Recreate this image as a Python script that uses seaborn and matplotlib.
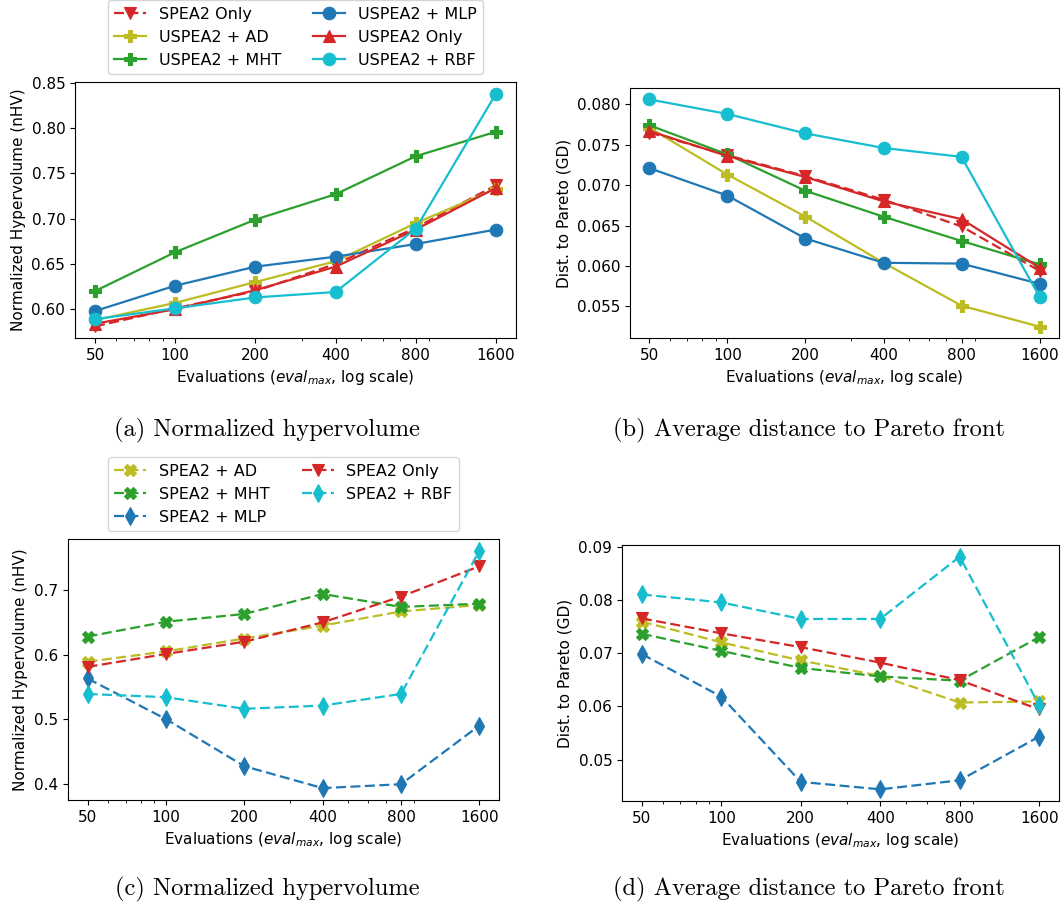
import matplotlib
matplotlib.use("Agg")
import matplotlib.pyplot as plt
import pandas as pd
import seaborn as sns

plt.rcParams["font.size"] = 11

evals = [50, 100, 200, 400, 800, 1600]

# (a) normalized hypervolume, USPEA2 variants
nhv_spea2_only = [0.581, 0.601, 0.620, 0.650, 0.690, 0.737]
nhv_uspea2_ad = [0.588, 0.607, 0.630, 0.653, 0.695, 0.733]
nhv_uspea2_mht = [0.620, 0.663, 0.699, 0.727, 0.769, 0.796]
nhv_uspea2_mlp = [0.598, 0.626, 0.647, 0.658, 0.672, 0.688]
nhv_uspea2_only = [0.584, 0.600, 0.621, 0.647, 0.688, 0.734]
nhv_uspea2_rbf = [0.589, 0.601, 0.613, 0.619, 0.689, 0.838]

# (b) generational distance, USPEA2 variants
gd_spea2_only = [0.0765, 0.0737, 0.0711, 0.0682, 0.0649, 0.0594]
gd_uspea2_ad = [0.0771, 0.0713, 0.0661, 0.0604, 0.0551, 0.0525]
gd_uspea2_mht = [0.0774, 0.0738, 0.0693, 0.0661, 0.0631, 0.0602]
gd_uspea2_mlp = [0.0721, 0.0687, 0.0634, 0.0604, 0.0603, 0.0578]
gd_uspea2_only = [0.0767, 0.0736, 0.0710, 0.0680, 0.0658, 0.0598]
gd_uspea2_rbf = [0.0806, 0.0788, 0.0764, 0.0746, 0.0735, 0.0562]

# (c) normalized hypervolume, SPEA2 variants
nhv_spea2_ad = [0.589, 0.605, 0.625, 0.645, 0.667, 0.677]
nhv_spea2_mht = [0.628, 0.651, 0.663, 0.694, 0.674, 0.679]
nhv_spea2_mlp = [0.563, 0.500, 0.427, 0.393, 0.399, 0.490]
nhv_spea2_rbf = [0.539, 0.534, 0.516, 0.521, 0.539, 0.761]

# (d) generational distance, SPEA2 variants
gd_spea2_ad = [0.0759, 0.0720, 0.0686, 0.0657, 0.0607, 0.0609]
gd_spea2_mht = [0.0736, 0.0704, 0.0672, 0.0656, 0.0648, 0.0730]
gd_spea2_mlp = [0.0698, 0.0618, 0.0458, 0.0444, 0.0461, 0.0543]
gd_spea2_rbf = [0.0810, 0.0795, 0.0764, 0.0764, 0.0881, 0.0602]

uspea2_names = ["SPEA2 Only", "USPEA2 + AD", "USPEA2 + MHT",
                "USPEA2 + MLP", "USPEA2 Only", "USPEA2 + RBF"]
spea2_names = ["SPEA2 + AD", "SPEA2 + MHT", "SPEA2 + MLP",
               "SPEA2 Only", "SPEA2 + RBF"]

colors = {
    "SPEA2 Only": "tab:red", "USPEA2 Only": "tab:red",
    "USPEA2 + AD": "tab:olive", "SPEA2 + AD": "tab:olive",
    "USPEA2 + MHT": "tab:green", "SPEA2 + MHT": "tab:green",
    "USPEA2 + MLP": "tab:blue", "SPEA2 + MLP": "tab:blue",
    "USPEA2 + RBF": "tab:cyan", "SPEA2 + RBF": "tab:cyan",
}
markers = {
    "SPEA2 Only": "v", "USPEA2 Only": "^",
    "USPEA2 + AD": "P", "USPEA2 + MHT": "P",
    "USPEA2 + MLP": "o", "USPEA2 + RBF": "o",
    "SPEA2 + AD": "X", "SPEA2 + MHT": "X",
    "SPEA2 + MLP": "d", "SPEA2 + RBF": "d",
}
dash = (4.5, 2)
dashes = {n: ("" if n.startswith("USPEA2") else dash) for n in colors}


def long_frame(names, series):
    rows = []
    for name, vals in zip(names, series):
        for x, y in zip(evals, vals):
            rows.append({"evals": x, "value": y, "method": name})
    return pd.DataFrame(rows)


def draw(ax, df, order, ylabel, legend=False):
    sns.lineplot(data=df, x="evals", y="value", hue="method", style="method",
                 hue_order=order, style_order=order,
                 palette=colors, markers=markers, dashes=dashes,
                 linewidth=1.6, markersize=9, mew=0, legend=False, ax=ax)
    for line in ax.lines:
        line.set_markeredgecolor(line.get_color())
        line.set_markeredgewidth(0.8)
    ax.set_xscale("log")
    ax.set_xticks(evals, [str(e) for e in evals])
    ax.set_xlabel("Evaluations ($eval_{max}$, log scale)")
    ax.set_ylabel(ylabel)
    if legend:
        ax.legend(ax.lines, order, loc="lower center",
                  bbox_to_anchor=(0.5, 1.0), ncol=2, fontsize=11.5)


fig = plt.figure(figsize=(10.62, 9.07), dpi=100)
ax_a = fig.add_axes([0.0706, 0.6273, 0.4153, 0.2822])
ax_b = fig.add_axes([0.5932, 0.6273, 0.4040, 0.2756])
ax_c = fig.add_axes([0.0640, 0.1180, 0.4058, 0.2878])
ax_d = fig.add_axes([0.5857, 0.1169, 0.4115, 0.2822])

df_a = long_frame(uspea2_names, [nhv_spea2_only, nhv_uspea2_ad, nhv_uspea2_mht,
                                 nhv_uspea2_mlp, nhv_uspea2_only, nhv_uspea2_rbf])
df_b = long_frame(uspea2_names, [gd_spea2_only, gd_uspea2_ad, gd_uspea2_mht,
                                 gd_uspea2_mlp, gd_uspea2_only, gd_uspea2_rbf])
df_c = long_frame(spea2_names, [nhv_spea2_ad, nhv_spea2_mht, nhv_spea2_mlp,
                                nhv_spea2_only, nhv_spea2_rbf])
df_d = long_frame(spea2_names, [gd_spea2_ad, gd_spea2_mht, gd_spea2_mlp,
                                gd_spea2_only, gd_spea2_rbf])

draw(ax_a, df_a, uspea2_names, "Normalized Hypervolume (nHV)", legend=True)
draw(ax_b, df_b, uspea2_names, "Dist. to Pareto (GD)")
draw(ax_c, df_c, spea2_names, "Normalized Hypervolume (nHV)", legend=True)
draw(ax_d, df_d, spea2_names, "Dist. to Pareto (GD)")

captions = [(267, 430, "(a) Normalized hypervolume"),
            (809, 430, "(b) Average distance to Pareto front"),
            (267, 889, "(c) Normalized hypervolume"),
            (809, 889, "(d) Average distance to Pareto front")]
for x, y, txt in captions:
    fig.text(x / 1062, 1 - y / 907, txt, ha="center", va="center",
             fontsize=17.6, family="cmr10")

fig.savefig("out.png", dpi=100)
